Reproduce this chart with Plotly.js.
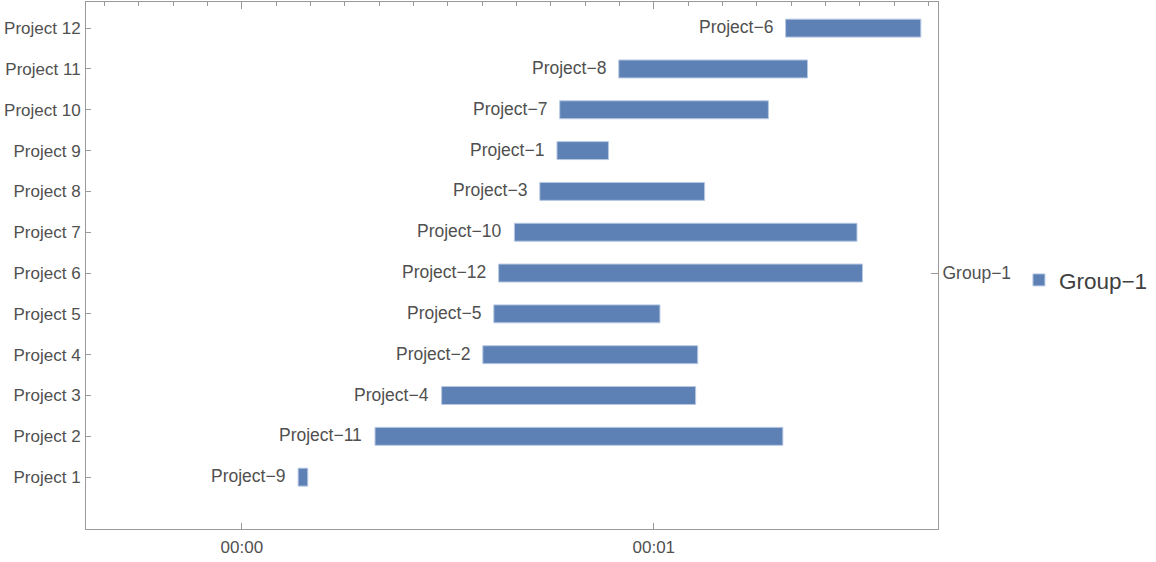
<!DOCTYPE html>
<html>
<head>
<meta charset="utf-8">
<script src="https://cdn.plot.ly/plotly-3.0.1.min.js"></script>
<style>html,body{margin:0;padding:0;background:#fff}#chart{width:1156px;height:562px}</style>
</head>
<body>
<div id="chart"></div>
<script>
// Data (times in seconds from 00:00)
const rows = [1,2,3,4,5,6,7,8,9,10,11,12];
const rowLabels = ["Project 1","Project 2","Project 3","Project 4","Project 5","Project 6","Project 7","Project 8","Project 9","Project 10","Project 11","Project 12"];
const taskNames = ["Project\u22129","Project\u221211","Project\u22124","Project\u22122","Project\u22125","Project\u221212","Project\u221210","Project\u22123","Project\u22121","Project\u22127","Project\u22128","Project\u22126"];
const startSec = [8.2, 19.4, 29.1, 35.1, 36.7, 37.4, 39.7, 43.4, 45.9, 46.3, 54.9, 79.2];
const endSec   = [9.6, 78.8, 66.1, 66.4, 60.9, 90.4, 89.6, 67.4, 53.4, 76.7, 82.4, 98.9];
const xTickVals = [0, 60];
const xTickText = ["00:00", "00:01"];
const minorTickVals = [-20,-15,-10,-5,5,10,15,20,25,30,35,40,45,50,55,65,70,75,80,85,90,95,100];
const groupName = "Group\u22121";

const durations = startSec.map((s, i) => endSec[i] - s);
const xRange = [-22.7, 101.4];
const yRange = [-0.27, 12.64];
const frame = '#9a9a9a';
const txt = '#505050';
const FONT = 'Liberation Sans, Arial, sans-serif';

const traces = [
  {
    type: 'bar', orientation: 'h', name: groupName,
    y: rows, x: durations, base: startSec, width: 0.44,
    marker: {color: '#5e81b5', line: {color: '#b7c8e3', width: 1}},
    hoverinfo: 'skip', showlegend: true
  },
  // helper trace to activate the top and right axes
  {type: 'scatter', x: [xRange[0]], y: [6], xaxis: 'x2', yaxis: 'y2', mode: 'markers', marker: {opacity: 0}, showlegend: false, hoverinfo: 'skip'}
];

const annotations = taskNames.map((t, i) => ({
  x: startSec[i], y: rows[i], xref: 'x', yref: 'y', text: t, showarrow: false,
  xanchor: 'right', yanchor: 'middle', xshift: -11, yshift: 1,
  font: {family: FONT, size: 17.5, color: txt}
}));

const layout = {
  width: 1156, height: 562,
  margin: {l: 86, r: 218, t: 2, b: 33},
  paper_bgcolor: '#fff', plot_bgcolor: '#fff',
  font: {family: FONT, size: 17, color: txt},
  annotations: annotations,
  xaxis: {
    range: xRange, tickvals: xTickVals, ticktext: xTickText,
    ticks: 'inside', ticklen: 6, tickcolor: frame, showgrid: false, zeroline: false,
    showline: true, linecolor: frame, linewidth: 1,
    tickfont: {size: 17, color: txt}, ticklabelstandoff: 3
  },
  xaxis2: {
    overlaying: 'x', side: 'top', range: xRange, matches: 'x',
    tickvals: xTickVals, showticklabels: false, ticks: 'inside', ticklen: 7, tickcolor: frame,
    minor: {tickvals: minorTickVals, ticks: 'inside', ticklen: 4, tickcolor: frame},
    showline: true, linecolor: frame, linewidth: 1, showgrid: false, zeroline: false
  },
  yaxis: {
    range: yRange, tickvals: rows, ticktext: rowLabels,
    ticks: 'inside', ticklen: 5, tickcolor: frame, showgrid: false, zeroline: false,
    showline: true, linecolor: frame, linewidth: 1,
    tickfont: {size: 17, color: txt}, ticklabelstandoff: 1
  },
  yaxis2: {
    overlaying: 'y', side: 'right', range: yRange, tickvals: [6], ticktext: [groupName],
    ticks: 'inside', ticklen: 7, tickcolor: frame, showgrid: false, zeroline: false,
    showline: true, linecolor: frame, linewidth: 1,
    tickfont: {size: 17.5, color: txt}, ticklabelstandoff: 0
  },
  legend: {
    x: 1.095, y: 0.472, xanchor: 'left', yanchor: 'middle',
    font: {size: 22.5, color: '#404040'}, bgcolor: 'rgba(0,0,0,0)'
  },
  showlegend: true
};

Plotly.newPlot('chart', traces, layout, {displayModeBar: false, staticPlot: true});
</script>
</body>
</html>
